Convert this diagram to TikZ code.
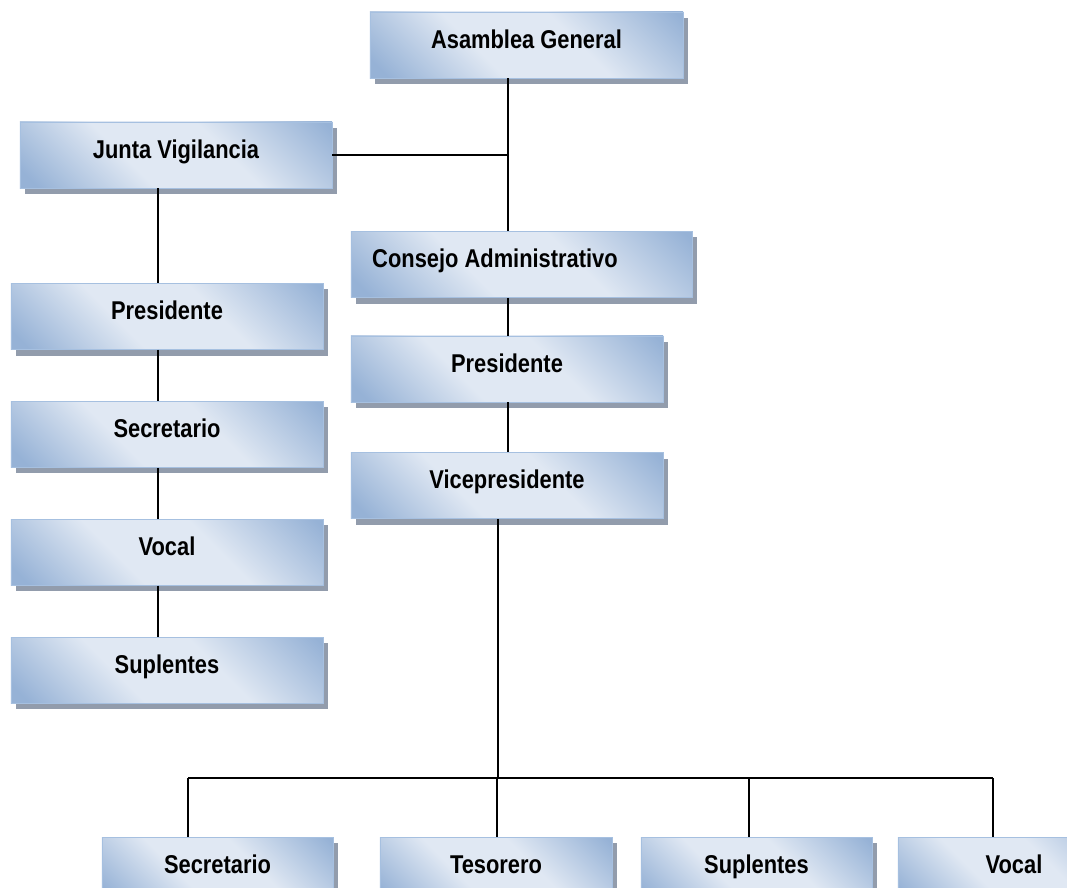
\documentclass[tikz,border=0pt]{standalone}
\usepackage{fontspec}
\setmainfont{Liberation Sans}[FakeStretch=0.85]
\usetikzlibrary{positioning,shadows}
\definecolor{orgDark}{RGB}{150,178,214}
\definecolor{orgLight}{RGB}{224,232,243}
\definecolor{orgEdge}{RGB}{166,192,224}
\definecolor{orgShadow}{RGB}{146,156,172}
\pgfdeclareverticalshading{orgShade}{100bp}{color(0bp)=(orgDark); color(18bp)=(orgDark); color(40bp)=(orgLight); color(60bp)=(orgLight); color(84bp)=(orgDark); color(100bp)=(orgDark)}
\tikzset{
	orgbox/.style={
		draw=orgEdge,
		line width=0.6pt,
		shading=orgShade,
		shading angle=-45,
		drop shadow={shadow xshift=0.125cm, shadow yshift=-0.15cm, fill=orgShadow, opacity=1},
		minimum height=1.65cm,
		inner ysep=0pt,
		text height=0.45cm,
		text depth=0.3cm,
		font=\bfseries\fontsize{18.3}{21}\selectfont
	},
	orgWide/.style={orgbox, minimum width=7.8cm},
	orgSmall/.style={orgbox, minimum width=5.8cm},
	orgLine/.style={line width=0.9pt}
}

\begin{document}
\begin{tikzpicture}[x=0.025cm, y=-0.025cm, node distance=1.275cm]

	\clip (0,0) rectangle (1067,888);

	% Top
	\node[orgWide, minimum width=7.825cm] (asamblea) at (526.5,45) {Asamblea General};
	\node[orgWide] (junta) at (176,155) {Junta Vigilancia};

	% Junta column
	\node[orgWide] (jpres) at (167,316.5) {Presidente};
	\node[orgWide, below=of jpres] (jsec) {Secretario};
	\node[orgWide, below=of jsec] (jvoc) {Vocal};
	\node[orgWide, below=of jvoc] (jsup) {Suplentes};

	% Consejo column
	\node[orgbox, minimum width=8.525cm] (consejo) at (521.5,264.5) {Consejo Administrativo\hspace*{1.325cm}};
	\node[orgWide] (cpres) at (507,369) {Presidente};
	\node[orgWide, below=1.25cm of cpres] (cvice) {Vicepresidente};

	% Bottom row
	\node[orgSmall, minimum width=5.775cm] (bsec) at (217.5,870) {Secretario};
	\node[orgSmall] (btes) at (496,870) {Tesorero};
	\node[orgSmall, minimum width=5.775cm] (bsup) at (756.5,870) {Suplentes};
	\node[orgSmall] (bvoc) at (1014,870) {Vocal};

	% Junctions
	\coordinate (trunk) at (508,155);
	\coordinate (jline) at (158,155);
	\coordinate (bus) at (498,778);
	\coordinate (busL) at (188,778);
	\coordinate (busR) at (993,778);

	% Lines
	\draw[orgLine] (asamblea.south -| trunk) -- (consejo.north -| trunk);
	\draw[orgLine] (junta.east) -- (trunk);
	\draw[orgLine] (junta.south -| jline) -- (jpres.north -| jline);
	\draw[orgLine] (jpres.south -| jline) -- (jsec.north -| jline);
	\draw[orgLine] (jsec.south -| jline) -- (jvoc.north -| jline);
	\draw[orgLine] (jvoc.south -| jline) -- (jsup.north -| jline);
	\draw[orgLine] (consejo.south -| trunk) -- (cpres.north -| trunk);
	\draw[orgLine] (cpres.south -| trunk) -- (cvice.north -| trunk);
	\draw[orgLine] (cvice.south -| bus) -- (bus);
	\draw[orgLine] (busL) -- (busR);
	\foreach \n/\x in {bsec/188, btes/497, bsup/749, bvoc/993}
		\draw[orgLine] (\x,778) -- (\n.north -| \x,778);

\end{tikzpicture}
\end{document}
